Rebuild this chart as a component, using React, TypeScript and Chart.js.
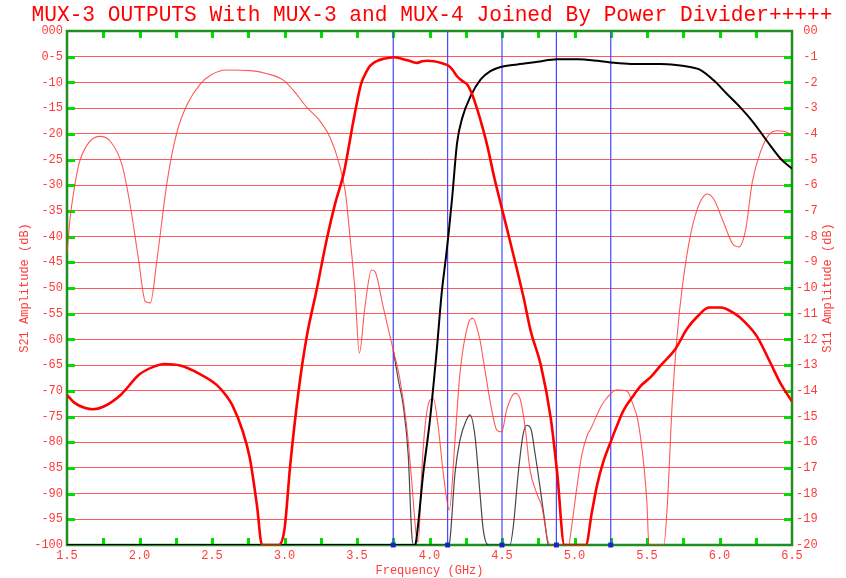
import React, { useEffect, useRef } from "react";
import { Chart, registerables } from "chart.js";

Chart.register(...registerables);

const TITLE = "MUX-3 OUTPUTS With MUX-3 and MUX-4 Joined By Power Divider+++++";
const X_TITLE = "Frequency (GHz)";
const Y_TITLE = "S21 Amplitude (dB)";
const Y2_TITLE = "S11 Amplitude (dB)";

const xTickLabels = ["1.5", "2.0", "2.5", "3.0", "3.5", "4.0", "4.5", "5.0", "5.5", "6.0", "6.5"];
// top to bottom
const leftTickLabels = [
  "000", "0-5", "-10", "-15", "-20", "-25", "-30", "-35", "-40", "-45", "-50",
  "-55", "-60", "-65", "-70", "-75", "-80", "-85", "-90", "-95", "-100",
];
const rightTickLabels = [
  "00", "-1", "-2", "-3", "-4", "-5", "-6", "-7", "-8", "-9", "-10",
  "-11", "-12", "-13", "-14", "-15", "-16", "-17", "-18", "-19", "-20",
];

// marker frequencies (GHz)
const markerFreqs = [3.75, 4.125, 4.5, 4.875, 5.25];

// [GHz, dB]
const s21Mux3: number[][] = [
  [1.5, -70.8], [1.55, -72.3], [1.62, -73.3], [1.68, -73.6], [1.75, -73.1], [1.87, -70.8],
  [2.0, -66.8], [2.1, -65.3], [2.17, -64.8], [2.28, -65.1], [2.42, -66.8], [2.53, -68.8],
  [2.6, -71.0], [2.64, -72.8], [2.71, -77.7], [2.76, -83.0], [2.81, -92.3], [2.845, -100],
  [2.96, -100], [3.0, -96.9], [3.04, -84.3], [3.1, -69.4], [3.155, -59.2], [3.22, -50.6],
  [3.29, -40.7], [3.35, -33.5], [3.41, -27.5], [3.477, -17.2], [3.52, -11.2], [3.535, -9.7],
  [3.56, -8.2], [3.59, -6.8], [3.64, -5.8], [3.684, -5.4], [3.753, -5.1], [3.82, -5.5],
  [3.87, -5.9], [3.915, -6.2], [3.95, -5.9], [3.984, -5.8], [4.03, -5.9], [4.076, -6.2],
  [4.134, -6.8], [4.16, -7.6], [4.19, -8.8], [4.23, -9.8], [4.26, -10.4], [4.29, -12.0],
  [4.33, -15.3], [4.37, -19.2], [4.4, -22.5], [4.445, -28.3], [4.49, -33.5], [4.537, -38.8],
  [4.6, -46.0], [4.65, -52.0], [4.698, -58.4], [4.767, -64.9], [4.836, -75.3], [4.88, -85.8],
  [4.93, -100], [5.078, -100], [5.12, -93.6], [5.156, -88.3], [5.2, -83.7], [5.25, -79.9],
  [5.28, -77.7], [5.34, -73.7], [5.41, -70.8], [5.455, -69.1], [5.53, -67.2], [5.593, -65.1],
  [5.697, -61.8], [5.777, -57.9], [5.846, -55.6], [5.927, -53.8], [6.007, -53.8], [6.1, -54.9],
  [6.17, -56.5], [6.26, -59.5], [6.35, -64.5], [6.42, -68.5], [6.5, -72.1],
];

const s21Mux4: number[][] = [
  [1.5, -100], [3.9, -100], [3.907, -99.4], [3.957, -86], [4.003, -75.7], [4.05, -62.1],
  [4.084, -51], [4.114, -43.9], [4.134, -38.8], [4.157, -32.2], [4.19, -21.8], [4.226, -16.9],
  [4.283, -12.7], [4.353, -9.4], [4.42, -7.8], [4.49, -7.0], [4.606, -6.5], [4.744, -6.0],
  [4.88, -5.5], [5.02, -5.5], [5.16, -5.8], [5.274, -6.2], [5.39, -6.4], [5.593, -6.4],
  [5.7, -6.6], [5.777, -6.9], [5.87, -7.6], [5.96, -9.6], [6.05, -12.2], [6.145, -14.9],
  [6.237, -17.9], [6.33, -21.5], [6.42, -24.8], [6.5, -26.8],
];

const s11Mux3: number[][] = [
  [1.5, -43.3], [1.523, -36], [1.546, -31.4], [1.58, -26.1], [1.638, -22.2], [1.725, -20.5],
  [1.8, -21.5], [1.88, -26.1], [1.937, -34.1], [1.994, -44.6], [2.04, -52.6], [2.075, -52.9],
  [2.12, -44.6], [2.19, -29.4], [2.26, -19.5], [2.33, -14.2], [2.42, -10.3], [2.49, -8.6],
  [2.603, -7.6], [2.764, -7.7], [2.88, -8.3], [2.994, -9.6], [3.063, -11.6], [3.155, -14.9],
  [3.236, -17.2], [3.316, -20.8], [3.374, -25.5], [3.42, -31.4], [3.454, -40.7], [3.486, -50.4],
  [3.516, -62.7], [3.555, -53.6], [3.6, -46.5], [3.624, -46.8], [3.68, -53.6], [3.75, -62.1],
  [3.797, -67.9], [3.843, -77], [3.877, -87.4], [3.907, -97.7], [3.923, -99.4], [3.946, -86],
  [3.969, -77], [4.003, -71.8], [4.026, -71.5], [4.06, -77], [4.095, -86], [4.137, -93.2],
  [4.176, -79.6], [4.21, -66.6], [4.268, -56.9], [4.298, -55.9], [4.348, -60.1], [4.371, -64],
  [4.429, -73.7], [4.463, -77.6], [4.498, -78], [4.532, -73.7], [4.59, -70.5], [4.624, -71.5],
  [4.659, -77], [4.693, -85.4], [4.739, -89.9], [4.774, -92.5], [4.82, -99.5], [4.84, -100],
  [4.96, -100], [4.975, -97.5], [5.02, -88], [5.05, -82.5], [5.09, -78.5], [5.11, -77.5],
  [5.18, -73.2], [5.22, -71.5], [5.294, -69.8], [5.363, -70.1], [5.4, -72.4], [5.435, -75.5],
  [5.455, -79], [5.48, -85], [5.5, -92], [5.513, -100], [5.616, -100], [5.64, -92.3],
  [5.674, -72.4], [5.708, -59.2], [5.743, -49.9], [5.789, -41.3], [5.846, -34.7], [5.915, -31.7],
  [5.96, -32.7], [6.03, -37.4], [6.088, -41.3], [6.134, -42], [6.18, -38.7], [6.226, -29.4],
  [6.283, -23.5], [6.34, -20.2], [6.398, -19.4], [6.444, -19.5], [6.5, -20.2],
];

const s11Mux4: number[][] = [
  [3.75, -62.1], [3.785, -67.9], [3.82, -73.1], [3.854, -82.8],
  [3.877, -97.7], [3.89, -100], [4.13, -100], [4.141, -99], [4.176, -86], [4.21, -79.6],
  [4.25, -76], [4.279, -74.7], [4.314, -78.9], [4.348, -89.9], [4.371, -97.1], [4.405, -100],
  [4.555, -100], [4.578, -96.4], [4.612, -86], [4.647, -78.3], [4.67, -76.7], [4.698, -77.3],
  [4.728, -82.2], [4.762, -88.7], [4.797, -95.8], [4.82, -100], [4.9, -100],
];

const MONO = "'Liberation Mono', 'DejaVu Sans Mono', monospace";
const LABEL_RED = "#ff3c3c";

const toPts = (arr: number[][]) => arr.map(([x, y]) => ({ x, y }));

const framePlugin = {
  id: "muxFrame",
  beforeDatasetsDraw(chart: any) {
    const { ctx, chartArea, scales } = chart;
    const { left, right, top, bottom } = chartArea;
    const x = scales.x;
    const y = scales.y;
    ctx.save();
    ctx.strokeStyle = "#00e000";
    ctx.lineWidth = 3;
    ctx.beginPath();
    for (let v = 1.75; v < 6.49; v += 0.25) {
      const px = Math.round(x.getPixelForValue(v)) + 0.5;
      ctx.moveTo(px, top);
      ctx.lineTo(px, top + 7);
      ctx.moveTo(px, bottom);
      ctx.lineTo(px, bottom - 7);
    }
    for (let v = -95; v <= -5; v += 5) {
      const py = Math.round(y.getPixelForValue(v)) + 0.5;
      ctx.moveTo(left, py);
      ctx.lineTo(left + 8, py);
      ctx.moveTo(right, py);
      ctx.lineTo(right - 8, py);
    }
    ctx.stroke();
    ctx.strokeStyle = "#1f8f1f";
    ctx.lineWidth = 2.5;
    ctx.strokeRect(left, top, right - left, bottom - top);
    ctx.restore();
  },
  afterDraw(chart: any) {
    const { ctx, chartArea } = chart;
    ctx.save();
    // main title
    ctx.fillStyle = "#ff0000";
    ctx.font = `21.2px ${MONO}`;
    ctx.textAlign = "center";
    ctx.textBaseline = "middle";
    ctx.fillText(TITLE, 432, 15.5);
    // right axis title
    ctx.fillStyle = LABEL_RED;
    ctx.font = `12px ${MONO}`;
    ctx.translate(828, (chartArea.top + chartArea.bottom) / 2);
    ctx.rotate(-Math.PI / 2);
    ctx.fillText(Y2_TITLE, 0, 0);
    ctx.restore();
  },
};

export default function App() {
  const ref = useRef<HTMLCanvasElement | null>(null);

  useEffect(() => {
    document.body.style.margin = "0";
    const canvas = ref.current;
    if (!canvas) return;

    const curve = (data: number[][], color: string, width: number) => ({
      data: toPts(data),
      borderColor: color,
      borderWidth: width,
      pointRadius: 0,
      fill: false,
      cubicInterpolationMode: "monotone" as const,
      yAxisID: "y",
    });

    const blueLines = markerFreqs.map((f) => ({
      data: [{ x: f, y: -100 }, { x: f, y: 0 }],
      borderColor: "rgba(60,60,255,0.95)",
      borderWidth: 1.2,
      pointRadius: 0,
      fill: false,
      yAxisID: "y",
    }));

    const markers = {
      data: markerFreqs.map((f) => ({ x: f, y: -100 })),
      showLine: false,
      pointStyle: "rect" as const,
      pointRadius: 3.5,
      pointBackgroundColor: "#1a22d0",
      pointBorderColor: "#1a22d0",
      pointBorderWidth: 0,
      clip: 8,
      yAxisID: "y",
    };

    const chart = new Chart(canvas, {
      type: "line",
      data: {
        datasets: [
          markers as any,
          curve(s21Mux3, "#ff0000", 2.6),
          curve(s21Mux4, "#000000", 2),
          curve(s11Mux3, "rgba(255,60,60,0.85)", 1.1),
          curve(s11Mux4, "rgba(40,40,40,0.85)", 1.2),
          ...blueLines,
        ],
      },
      options: {
        responsive: false,
        animation: false,
        parsing: true,
        layout: { padding: { top: 31, left: 0, right: 0, bottom: 0 } },
        plugins: {
          legend: { display: false },
          tooltip: { enabled: false },
          title: { display: false },
        },
        scales: {
          x: {
            type: "linear",
            min: 1.5,
            max: 6.5,
            grid: { display: false, drawTicks: false },
            border: { display: false },
            ticks: {
              stepSize: 0.5,
              color: LABEL_RED,
              font: { family: MONO, size: 12 },
              padding: 4,
              maxRotation: 0,
              autoSkip: false,
              callback: (v: any) => {
                const i = Math.round((Number(v) - 1.5) / 0.5);
                return xTickLabels[i] ?? "";
              },
            },
            title: {
              display: true,
              text: X_TITLE,
              color: LABEL_RED,
              font: { family: MONO, size: 12 },
              padding: { top: 0, bottom: 0 },
            },
            afterFit: (s: any) => {
              s.height = 33;
            },
          },
          y: {
            type: "linear",
            position: "left",
            min: -100,
            max: 0,
            grid: { color: "#ff5a5a", lineWidth: 1, drawTicks: false },
            border: { display: false },
            ticks: {
              stepSize: 5,
              color: LABEL_RED,
              font: { family: MONO, size: 12 },
              padding: 4,
              autoSkip: false,
              callback: (v: any) => leftTickLabels[Math.round(-Number(v) / 5)] ?? "",
            },
            title: {
              display: true,
              text: Y_TITLE,
              color: LABEL_RED,
              font: { family: MONO, size: 12 },
              padding: { top: 18, bottom: 0 },
            },
            afterFit: (s: any) => {
              s.width = 67;
            },
          },
          y2: {
            type: "linear",
            position: "right",
            min: -20,
            max: 0,
            grid: { display: false, drawTicks: false },
            border: { display: false },
            ticks: {
              stepSize: 1,
              color: LABEL_RED,
              font: { family: MONO, size: 12 },
              padding: 4,
              autoSkip: false,
              crossAlign: "near",
              callback: (v: any) => (rightTickLabels[Math.round(-Number(v))] ?? "").padStart(3, " "),
            },
            afterFit: (s: any) => {
              s.width = 54;
            },
          },
        },
      },
      plugins: [framePlugin],
    });

    return () => chart.destroy();
  }, []);

  return (
    <canvas
      ref={ref}
      width={846}
      height={578}
      style={{ display: "block", width: 846, height: 578 }}
    />
  );
}
